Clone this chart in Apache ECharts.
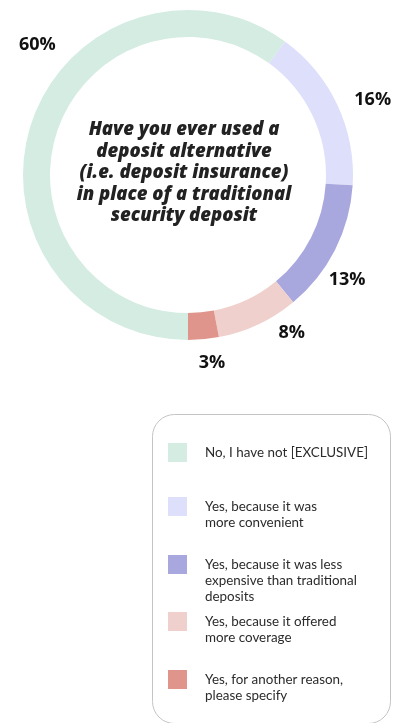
<!DOCTYPE html>
<html>
<head>
<meta charset="utf-8">
<script src="https://cdn.jsdelivr.net/npm/echarts@6/dist/echarts.min.js"></script>
<style>
  html, body { margin: 0; padding: 0; background: #ffffff; }
  #chart { width: 409px; height: 723px; }
</style>
</head>
<body>
<div id="chart"></div>
<script>
// Survey answers and their shares (percent)
const categories = [
  'No, I have not [EXCLUSIVE]',
  'Yes, because it was\nmore convenient',
  'Yes, because it was less\nexpensive than traditional\ndeposits',
  'Yes, because it offered\nmore coverage',
  'Yes, for another reason,\nplease specify'
];
const shares = [60, 16, 13, 8, 3];
const sliceColors = ['#d4ece1', '#dedffb', '#a8a8df', '#f0d0cc', '#e0958c'];
const question = 'Have you ever used a\ndeposit alternative\n(i.e. deposit insurance)\nin place of a traditional\nsecurity deposit';

// Ring geometry
const cx = 188, cy = 175, rInner = 138, rOuter = 165;
const startFromTop = 180;          // first slice starts at 6 o'clock, runs clockwise
const labelRadius = 192;
// small nudges that keep each percentage clear of its neighbours
const labelNudge = [[32, -71], [11, 7], [-12, 18], [22, -16], [6, -3]];

const total = shares.reduce((a, b) => a + b, 0);
function midAngle(i) {
  let before = 0;
  for (let j = 0; j < i; j++) before += shares[j];
  return (startFromTop + (before + shares[i] / 2) / total * 360) * Math.PI / 180;
}

// Legend: one block per answer; wrapped text hangs from the top of its swatch.
// Legend text is centred on the swatch, so L-1 empty lines are put above an
// L-line name to push its first line up level with the swatch.
const lineH = 16, swatch = 19;
const legendTops = [443, 497, 555, 612, 670];
const legends = categories.map((name, i) => {
  const lines = name.split('\n').length;
  const blockTop = swatch / 2 - (2 * lines - 1) * lineH / 2;
  return {
    show: true,
    orient: 'vertical',
    left: 168,
    top: legendTops[i] + Math.min(0, blockTop),
    padding: 0,
    icon: 'rect',
    itemWidth: swatch,
    itemHeight: swatch,
    selectedMode: false,
    data: [name],
    formatter: n => '\n'.repeat(n.split('\n').length - 1) + n,
    textStyle: {
      fontFamily: 'Lato',
      fontSize: 13.4,
      color: '#2b2b2b',
      lineHeight: lineH,
      padding: [0, 0, 0, 13]
    }
  };
});

const chart = echarts.init(document.getElementById('chart'), null, { renderer: 'canvas' });
chart.setOption({
  animation: false,
  color: sliceColors,
  legend: legends,
  graphic: [
    {
      type: 'rect',
      shape: { x: 152.5, y: 414.5, width: 238, height: 309, r: 22 },
      style: { fill: 'none', stroke: '#c4c4c4', lineWidth: 1 },
      z: 0
    },
    {
      type: 'text',
      x: 184,
      y: 173,
      style: {
        text: question,
        align: 'center',
        verticalAlign: 'middle',
        fontFamily: 'Open Sans',
        fontStyle: 'italic',
        fontWeight: 800,
        fontSize: 18.5,
        lineHeight: 21.5,
        fill: '#222222'
      }
    }
  ],
  series: [{
    type: 'pie',
    center: [cx, cy],
    radius: [rInner, rOuter],
    startAngle: 90 - startFromTop,
    clockwise: true,
    avoidLabelOverlap: false,
    silent: true,
    itemStyle: { borderWidth: 0 },
    label: {
      show: true,
      position: 'outside',
      formatter: '{c}%',
      fontFamily: 'Open Sans',
      fontWeight: 'bold',
      fontSize: 18,
      color: '#111111'
    },
    labelLine: { show: false },
    labelLayout: function (p) {
      const a = midAngle(p.dataIndex);
      const n = labelNudge[p.dataIndex];
      return {
        x: cx + labelRadius * Math.sin(a) + n[0],
        y: cy - labelRadius * Math.cos(a) + n[1],
        align: 'center',
        verticalAlign: 'middle'
      };
    },
    data: categories.map((name, i) => ({ name: name, value: shares[i] }))
  }]
});
</script>
</body>
</html>
